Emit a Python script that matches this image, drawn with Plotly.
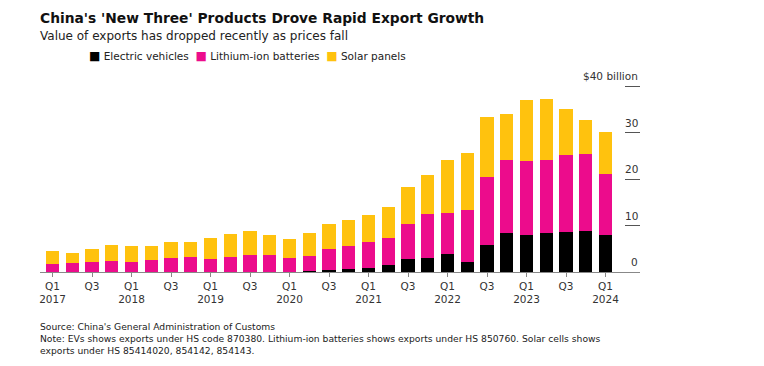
import plotly.graph_objects as go

quarters = ["Q1 2017","Q2 2017","Q3 2017","Q4 2017","Q1 2018","Q2 2018","Q3 2018","Q4 2018",
            "Q1 2019","Q2 2019","Q3 2019","Q4 2019","Q1 2020","Q2 2020","Q3 2020","Q4 2020",
            "Q1 2021","Q2 2021","Q3 2021","Q4 2021","Q1 2022","Q2 2022","Q3 2022","Q4 2022",
            "Q1 2023","Q2 2023","Q3 2023","Q4 2023","Q1 2024"]

electric_vehicles = [0.05, 0.05, 0.05, 0.05, 0.05, 0.05, 0.05, 0.05, 0.05, 0.05, 0.1, 0.1, 0.1, 0.2,
                     0.4, 0.7, 0.9, 1.6, 2.8, 3.0, 3.8, 2.1, 5.8, 8.3, 8.0, 8.3, 8.7, 8.9, 8.0]
lithium_ion_batteries = [1.6, 1.8, 2.1, 2.4, 2.2, 2.5, 2.9, 3.1, 2.7, 3.1, 3.6, 3.6, 2.9, 3.2,
                         4.6, 5.0, 5.6, 5.7, 7.6, 9.4, 8.8, 11.3, 14.7, 15.8, 15.9, 15.8, 16.4, 16.5, 13.1]
solar_panels = [2.8, 2.3, 2.7, 3.4, 3.4, 3.1, 3.6, 3.4, 4.6, 5.0, 5.2, 4.3, 4.1, 4.9,
                5.3, 5.6, 5.7, 6.6, 7.8, 8.5, 11.5, 12.3, 12.8, 9.9, 13.1, 13.1, 10.0, 7.4, 9.1]

x_tick_labels = ["Q1<br>2017", "Q3", "Q1<br>2018", "Q3", "Q1<br>2019", "Q3", "Q1<br>2020", "Q3",
                 "Q1<br>2021", "Q3", "Q1<br>2022", "Q3", "Q1<br>2023", "Q3", "Q1<br>2024"]
y_tick_values = [0, 10, 20, 30, 40]
y_tick_labels = ["0", "10", "20", "30", "$40 billion"]

C_EV = "#000000"
C_LI = "#EC0C8C"
C_SO = "#FFC20E"
FONT = "DejaVu Sans, Verdana, sans-serif"

xs = list(range(len(quarters)))

fig = go.Figure()
for name, vals, col in [("Electric vehicles", electric_vehicles, C_EV),
                        ("Lithium-ion batteries", lithium_ion_batteries, C_LI),
                        ("Solar panels", solar_panels, C_SO)]:
    fig.add_trace(go.Bar(x=xs, y=vals, name=name, marker=dict(color=col, line=dict(width=0)),
                         customdata=quarters, hovertemplate="%{customdata}: %{y}<extra>" + name + "</extra>",
                         showlegend=False))

annotations = [
    dict(text="<b>China's 'New Three' Products Drove Rapid Export Growth</b>", xref="paper", yref="paper",
         x=-0.003, y=1.0, xanchor="left", yanchor="bottom", yshift=35, showarrow=False,
         font=dict(size=13.8, color="#111111", family=FONT)),
    dict(text="Value of exports has dropped recently as prices fall", xref="paper", yref="paper",
         x=-0.003, y=1.0, xanchor="left", yanchor="bottom", yshift=18, showarrow=False,
         font=dict(size=12, color="#222222", family=FONT)),
    dict(text=("<span style='color:%s;font-size:12px'>■</span> Electric vehicles  "
               "<span style='color:%s;font-size:12px'>■</span> Lithium-ion batteries  "
               "<span style='color:%s;font-size:12px'>■</span> Solar panels") % (C_EV, C_LI, C_SO),
         xref="paper", yref="paper", x=0.079, y=1.0, xanchor="left", yanchor="bottom", yshift=-2,
         showarrow=False, font=dict(size=10.5, color="#222222", family=FONT)),
    dict(text=("Source: China's General Administration of Customs<br>"
               "Note: EVs shows exports under HS code 870380. Lithium-ion batteries shows exports under HS 850760. Solar cells shows<br>"
               "exports under HS 85414020, 854142, 854143."),
         xref="paper", yref="paper", x=-0.003, y=0, xanchor="left", yanchor="top", yshift=-47,
         align="left", showarrow=False, font=dict(size=9.2, color="#222222", family=FONT)),
]
for v, t in zip(y_tick_values, y_tick_labels):
    annotations.append(dict(text=t, xref="paper", yref="y", x=1.0, y=v, xanchor="right", yanchor="bottom",
                            yshift=2, showarrow=False, font=dict(size=10.5, color="#333333", family=FONT)))

fig.update_layout(
    barmode="stack",
    bargap=0.32,
    width=764, height=366,
    margin=dict(l=40, r=124, t=63.3, b=94, autoexpand=False),
    paper_bgcolor="white", plot_bgcolor="white",
    font=dict(family=FONT, color="#333333", size=10.5),
    xaxis=dict(range=[-0.633, 29.747], tickvals=xs[::2], ticktext=x_tick_labels, automargin=False,
               showgrid=False, zeroline=False, showline=True, linecolor="#888888", linewidth=1,
               ticks="outside", ticklen=4, tickcolor="#888888", tickfont=dict(size=10.5, color="#333333")),
    yaxis=dict(range=[0, 45], side="right", tickvals=y_tick_values, automargin=False,
               showgrid=False, zeroline=False, showline=False, showticklabels=False,
               ticks="inside", ticklen=15, tickcolor="#555555", tickwidth=1),
    annotations=annotations,
)

fig.write_html("out.html", post_script="document.body.style.margin='0';",
               config={"displayModeBar": False})
